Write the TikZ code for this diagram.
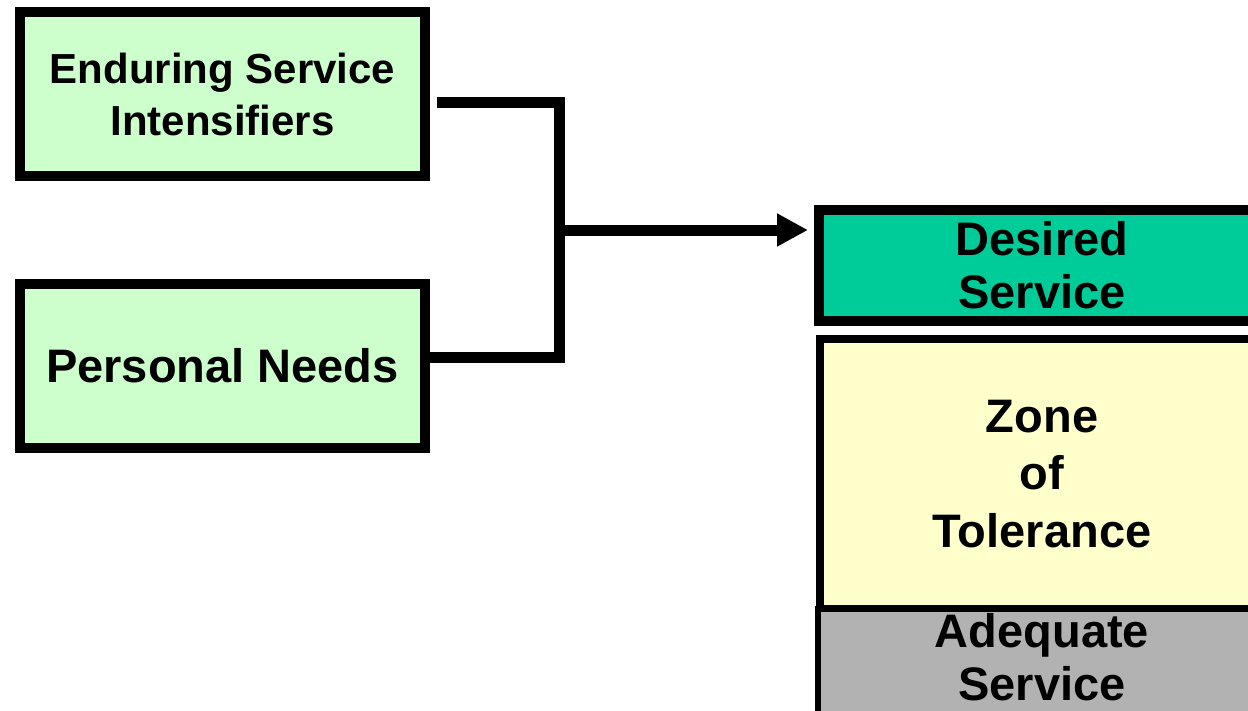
\documentclass[tikz,border=0pt]{standalone}
\usepackage{fontspec}
\setmainfont{Liberation Sans}
\usetikzlibrary{positioning}
\usetikzlibrary{arrows.meta}

\definecolor{mintgreen}{HTML}{CCFFCC}
\definecolor{desiredgreen}{HTML}{00CC99}
\definecolor{zonecream}{HTML}{FFFFCC}
\definecolor{adequategray}{HTML}{B2B2B2}

\begin{document}
\begin{tikzpicture}[x=1pt,y=1pt,>={Triangle[length=31pt,width=31pt]},node distance=108pt,
                line join=miter,
                source node/.style={rectangle,draw,fill=mintgreen,line width=10pt,outer sep=0pt,
                  minimum width=405pt,minimum height=164pt,align=center,
                  font=\fontsize{47}{53}\selectfont\bfseries},
                level node/.style={rectangle,draw,outer sep=0pt,align=center,
                  font=\fontsize{47}{53}\selectfont\bfseries},
                link/.style={line width=11pt}]
  \useasboundingbox (0,0) rectangle (1248,-710);
  \clip (0,0) rectangle (1248,-710);

  \node[source node,font=\fontsize{42}{52}\selectfont\bfseries] (ensi) at (222.5,-94) {Enduring Service\\Intensifiers};
  \node[source node] (pneed) [below=of ensi] {Personal Needs};

  \node[level node,fill=desiredgreen,line width=10pt,minimum width=446pt,minimum height=111pt] (dserv) at (1042,-265.5) {Desired\\Service};
  \node[level node,fill=zonecream,line width=8pt,minimum width=444pt,minimum height=270pt,
        font=\fontsize{47}{57.5}\selectfont\bfseries] (zone) [below=18pt of dserv] {Zone\\of\\Tolerance};
  \node[level node,fill=adequategray,line width=6pt,minimum width=448pt,inner ysep=4pt,text depth=80pt] (adeq) [below=0pt of zone] {Adequate\\Service};

  \coordinate (fork) at (559,-230);

  \draw[link,shorten <=12pt] ([yshift=-8pt]ensi.east) -| (fork) |- ([yshift=8.5pt]pneed.east);
  \draw[link,->,shorten >=11pt] (fork) -- (dserv.west |- fork);

\end{tikzpicture}
\end{document}
